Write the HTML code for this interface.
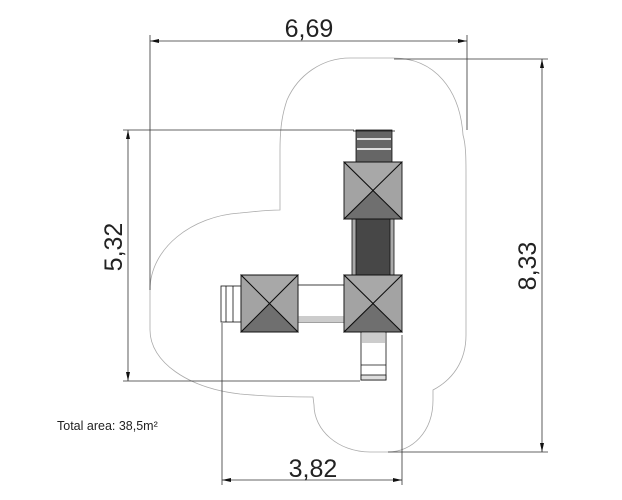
<!DOCTYPE html>
<html><head><meta charset="utf-8"><style>
html,body{margin:0;padding:0;background:#fff;}
svg{display:block;}
text{font-family:"Liberation Sans",sans-serif;fill:#222;}
</style></head><body>
<svg width="622" height="500" viewBox="0 0 622 500" xmlns="http://www.w3.org/2000/svg">
<path d="M350,58 L393,58 C435,58 460,90 463,135 C466,145 466,160 466,175 L466,335 C466,362 452,380 433,390 L433,400 C433,432 412,452 388,452 L370,452 C338,452 314,430 314,405 L313,397 C290,397 262,396 240,394 C188,388 150,362 150,330 L150,290 C150,248 192,216 240,213 C258,211 270,210 280,210 L280,150 C280,125 283,112 287,100 C298,75 322,58 350,58 Z" fill="none" stroke="#aaa" stroke-width="0.8"/>
<g stroke="#333" stroke-width="0.8" fill="none">
<line x1="150" y1="35" x2="150" y2="290"/>
<line x1="467" y1="35" x2="467" y2="130"/>
<line x1="150" y1="41" x2="467" y2="41"/>
<line x1="394" y1="59" x2="548" y2="59"/>
<line x1="388" y1="452" x2="548" y2="452"/>
<line x1="542" y1="59" x2="542" y2="452"/>
<line x1="123" y1="130" x2="354" y2="130"/>
<line x1="123" y1="381" x2="360" y2="381"/>
<line x1="128" y1="130" x2="128" y2="381"/>
<line x1="222" y1="323" x2="222" y2="485"/>
<line x1="402" y1="335" x2="402" y2="485"/>
<line x1="222" y1="480" x2="402" y2="480"/>
</g>
<g fill="#111">
<path d="M150,41 l9,-2 v4z"/><path d="M467,41 l-9,-2 v4z"/>
<path d="M542,59 l-2,9 h4z"/><path d="M542,452 l-2,-9 h4z"/>
<path d="M128,130 l-2,9 h4z"/><path d="M128,381 l-2,-9 h4z"/>
<path d="M222,480 l9,-2 v4z"/><path d="M402,480 l-9,-2 v4z"/>
</g>
<text x="309" y="37" font-size="25" text-anchor="middle">6,69</text>
<text x="313" y="477" font-size="25" text-anchor="middle">3,82</text>
<text transform="translate(122,247) rotate(-90)" font-size="25" text-anchor="middle">5,32</text>
<text transform="translate(536,266) rotate(-90)" font-size="25" text-anchor="middle">8,33</text>
<text x="57" y="430" font-size="12.5">Total area: 38,5m²</text>

<g stroke="#111" stroke-width="0.8">
<rect x="356" y="130" width="36" height="32" fill="#666"/>
<rect x="357" y="138" width="34" height="2" fill="#ddd" stroke="none"/>
<rect x="357" y="148" width="34" height="2" fill="#ddd" stroke="none"/>
<line x1="353" y1="131" x2="395" y2="131"/>
<rect x="352" y="219" width="42" height="56" fill="#aaa"/>
<rect x="356" y="219" width="34" height="56" fill="#474747"/>
<rect x="298" y="285" width="46" height="37" fill="#fff"/>
<rect x="298" y="316" width="46" height="6" fill="#ccc" stroke="none"/>
<rect x="221" y="286" width="20" height="36" fill="#fff"/>
<line x1="226" y1="286" x2="226" y2="322"/>
<line x1="233" y1="286" x2="233" y2="322"/>
<rect x="361" y="332" width="25" height="48" fill="#fff"/>
<rect x="362" y="333" width="23" height="10" fill="#ccc" stroke="none"/>
<line x1="361" y1="365" x2="386" y2="365"/>
<rect x="361" y="375" width="25" height="5" fill="#ddd"/>
</g>
<g stroke="#111" stroke-width="0.9">
<g transform="translate(344,162)">
<rect width="58" height="57" fill="#a3a3a3"/><path d="M0,57 L29,28.5 L58,57 Z" fill="#6f6f6f"/><path d="M0,0 L29,28.5 L58,0 Z" fill="#a8a8a8"/>
<line x1="0" y1="0" x2="58" y2="57"/><line x1="58" y1="0" x2="0" y2="57"/></g>
<g transform="translate(344,275)">
<rect width="58" height="57" fill="#a3a3a3"/><path d="M0,57 L29,28.5 L58,57 Z" fill="#6f6f6f"/><path d="M0,0 L29,28.5 L58,0 Z" fill="#a8a8a8"/>
<line x1="0" y1="0" x2="58" y2="57"/><line x1="58" y1="0" x2="0" y2="57"/></g>
<g transform="translate(241,275)">
<rect width="57" height="57" fill="#a3a3a3"/><path d="M0,57 L28.5,28.5 L57,57 Z" fill="#6f6f6f"/><path d="M0,0 L28.5,28.5 L57,0 Z" fill="#a8a8a8"/>
<line x1="0" y1="0" x2="57" y2="57"/><line x1="57" y1="0" x2="0" y2="57"/></g>
</g>
</svg>
</body></html>
